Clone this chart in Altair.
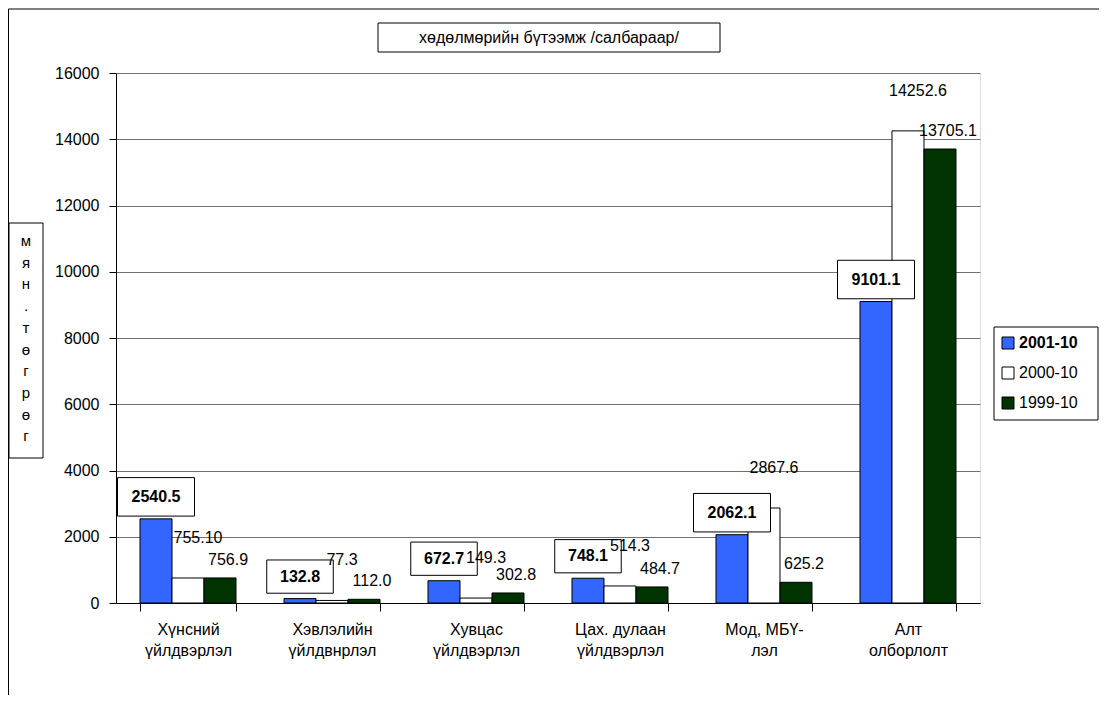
import altair as alt
import pandas as pd

categories = ["Хүнсний\nүйлдвэрлэл", "Хэвлэлийн\nүйлдвнрлэл", "Хувцас\nүйлдвэрлэл",
              "Цах. дулаан\nүйлдвэрлэл", "Мод, МБҮ-\nлэл", "Алт\nолборлолт"]
series = ["2001-10", "2000-10", "1999-10"]
v2001 = [2540.5, 132.8, 672.7, 748.1, 2062.1, 9101.1]
v2000 = [755.10, 77.3, 149.3, 514.3, 2867.6, 14252.6]
v1999 = [756.9, 112.0, 302.8, 484.7, 625.2, 13705.1]
lab2001 = ["2540.5", "132.8", "672.7", "748.1", "2062.1", "9101.1"]
lab2000 = ["755.10", "77.3", "149.3", "514.3", "2867.6", "14252.6"]
lab1999 = ["756.9", "112.0", "302.8", "484.7", "625.2", "13705.1"]
colors = ["#3366FF", "#FFFFFF", "#003300"]
title_text = "хөдөлмөрийн бүтээмж /салбараар/"
ytitle_chars = list("мян.төгрөг")

rows = []
for s, vals, labs in zip(series, [v2001, v2000, v1999], [lab2001, lab2000, lab1999]):
    for c, v, l in zip(categories, vals, labs):
        rows.append({"category": c, "series": s, "value": v, "label": l})
df = pd.DataFrame(rows)
one = pd.DataFrame({"a": [0]})

FONT = "Liberation Sans"
FS = 16
PX = 16000 / 530.0  # data units per pixel

xscale = alt.Scale(domain=categories, paddingInner=0.3333, paddingOuter=0.1667)
yscale = alt.Scale(domain=[0, 16000], nice=False)
xoff = alt.XOffset("series:N", sort=series, scale=alt.Scale(domain=series, paddingInner=0, paddingOuter=0))

x_axis = alt.Axis(title=None, labelAngle=0, labelExpr="split(datum.label, '\\n')",
                  domainColor="black", tickColor="black", tickSize=8, tickBand="extent",
                  labelFont=FONT, labelFontSize=FS, labelColor="black", labelLineHeight=21,
                  labelPadding=10, grid=False)
y_axis = alt.Axis(title=None, values=list(range(0, 16001, 2000)), format="d", domainColor="black",
                  tickColor="black", tickSize=7, labelFont=FONT, labelFontSize=FS,
                  labelColor="black", labelPadding=10, grid=True, gridColor="#707070",
                  gridWidth=1)

bars = alt.Chart(df).mark_bar(stroke="black", strokeWidth=1).encode(
    x=alt.X("category:N", sort=categories, scale=xscale, axis=x_axis),
    xOffset=xoff,
    y=alt.Y("value:Q", scale=yscale, axis=y_axis),
    color=alt.Color("series:N", sort=series, scale=alt.Scale(domain=series, range=colors), legend=None),
)

def lab_layer(s, lift, dx, bold):
    base = alt.Chart(df).transform_filter(alt.datum.series == s).transform_calculate(
        ly=f"datum.value + {lift * PX}",
        bs="pow(length(datum.label) * 10.5 + 14, 2)",
    )
    enc = dict(
        x=alt.X("category:N", sort=categories, scale=xscale, axis=x_axis),
        xOffset=xoff,
        y=alt.Y("ly:Q", scale=yscale, axis=y_axis),
    )
    layers = []
    if bold:
        layers.append(base.mark_point(shape="M-1,-0.5L1,-0.5L1,0.5L-1,0.5Z", filled=True,
                                      fill="white", stroke="black", strokeWidth=1, opacity=1,
                                      dx=dx).encode(
            size=alt.Size("bs:Q", scale=None), **enc))
    layers.append(base.mark_text(font=FONT, fontSize=FS,
                                 fontWeight="bold" if bold else "normal", color="black",
                                 align="center", baseline="middle", dx=dx).encode(
        text="label:N", **enc))
    return layers

labels = lab_layer("2001-10", 22, 0, True) + lab_layer("2000-10", 40, 10, False) + lab_layer("1999-10", 18, 8, False)

# chart frame lines
frame_top = alt.Chart(one).mark_rule(color="black", strokeWidth=1).encode(
    x=alt.value(-107.5), x2=alt.value(983), y=alt.value(-64))
frame_left = alt.Chart(one).mark_rule(color="black", strokeWidth=1).encode(
    x=alt.value(-107.5), y=alt.value(-64), y2=alt.value(622))

# title box
title_box = alt.Chart(one).mark_rect(fill="white", stroke="black", strokeWidth=1).encode(
    x=alt.value(262), x2=alt.value(604), y=alt.value(-50), y2=alt.value(-21))
title_txt = alt.Chart(one).mark_text(text=title_text, font=FONT, fontSize=FS, color="black",
                                     align="center", baseline="middle").encode(
    x=alt.value(433), y=alt.value(-35))

# y-axis title box
ybox = alt.Chart(one).mark_rect(fill="white", stroke="black", strokeWidth=1).encode(
    x=alt.value(-107), x2=alt.value(-73), y=alt.value(150), y2=alt.value(385))
ytxt = alt.Chart(one).mark_text(text=ytitle_chars, font=FONT, fontSize=15, color="black",
                                align="center", baseline="middle", lineHeight=21.7).encode(
    x=alt.value(-90), y=alt.value(168))

# legend
leg = [alt.Chart(one).mark_rect(fill="white", stroke="black", strokeWidth=1).encode(
    x=alt.value(878), x2=alt.value(982), y=alt.value(254), y2=alt.value(347))]
for i, s in enumerate(series):
    cy = 270 + 30 * i
    leg.append(alt.Chart(one).mark_rect(fill=colors[i], stroke="black", strokeWidth=1).encode(
        x=alt.value(886), x2=alt.value(898), y=alt.value(cy - 6), y2=alt.value(cy + 6)))
    leg.append(alt.Chart(one).mark_text(text=s, font=FONT, fontSize=FS,
                                        fontWeight="bold" if i == 0 else "normal", color="black",
                                        align="left", baseline="middle").encode(
        x=alt.value(903), y=alt.value(cy)))

chart = alt.layer(bars, *labels, frame_top, frame_left, title_box, title_txt, ybox, ytxt, *leg).properties(
    width=864, height=530,
    padding={"left": 108, "top": 65, "right": 119, "bottom": 92},
    autosize=alt.AutoSizeParams(type="none"),
).configure_view(stroke="#808080", strokeWidth=1).configure(background="white")

chart.save("out.html", embed_options={"renderer": "svg", "actions": False})
